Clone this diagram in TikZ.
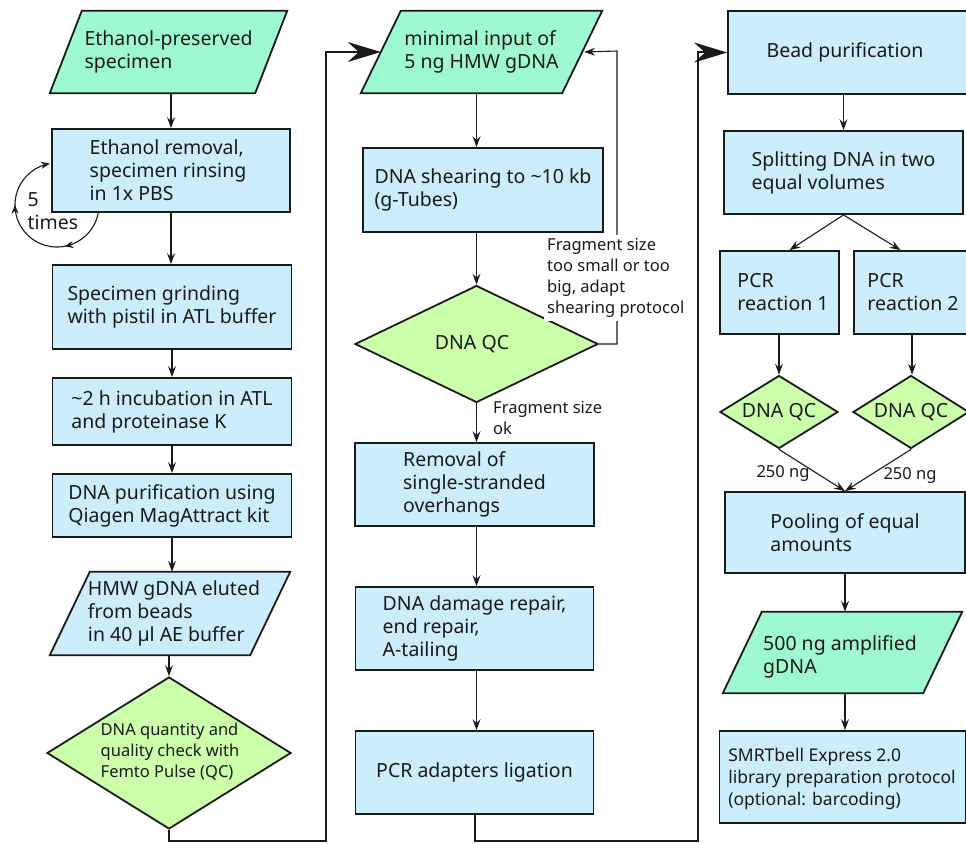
\documentclass[tikz,border=0pt]{standalone}
\usepackage{fontspec}
\setmainfont{Noto Sans}
\usetikzlibrary{shapes.geometric,arrows.meta,decorations.markings}
\definecolor{mint}{HTML}{9FF9D0}
\definecolor{lblue}{HTML}{CCEEFC}
\definecolor{lgreen}{HTML}{CCFFAA}
\definecolor{bd}{HTML}{1A1A1A}
\newcommand\myMainFont{\fontsize{19.5}{23}\selectfont}
\newcommand\mySmallFont{\fontsize{16.5}{21}\selectfont}
\newcommand\myPara[2]{\draw[parashape] ([xshift=#2]#1.north west) -- (#1.north east) -- ([xshift=-#2]#1.south east) -- (#1.south west) -- cycle;}
\tikzset{
  box/.style={rectangle, draw=bd, line width=1.8pt, fill=lblue, inner sep=0pt},
  frame/.style={rectangle, inner sep=0pt},
  parashape/.style={draw=bd, line width=1.8pt, fill=mint, line join=miter},
  dia/.style={diamond, draw=bd, line width=1.8pt, fill=lgreen, inner sep=0pt},
  txt/.style={align=left, font=\myMainFont, text=bd, inner sep=0pt},
  stxt/.style={align=left, font=\mySmallFont, text=bd, inner sep=0pt},
  arr/.style={draw=bd, line width=1.1pt, -{Stealth[length=11pt,width=8pt,inset=4pt]}},
  bigarr/.style={draw=bd, line width=2pt, -{Stealth[length=33pt,width=20pt,inset=11pt]}},
}
\begin{document}
\begin{tikzpicture}[x=1pt,y=-1pt]
\useasboundingbox (0,0) rectangle (966,843);
\clip (0,0) rectangle (966,843);

% ---------- column 1 ----------
\path node[frame, minimum width=237pt, minimum height=82pt] (p1) at (168.5,52) {};
\myPara{p1}{32}
\node[txt] (p1t) at (p1) {Ethanol-preserved\\specimen};

\node[box, minimum width=238pt, minimum height=83pt] (b1) at (171,170.5) {};
\node[txt] (b1t) at (168,170.5) {Ethanol removal,\\specimen rinsing\\in 1x PBS};

\node[box, minimum width=239pt, minimum height=84pt] (b2) at (172,307) {};
\node[txt] (b2t) at (b2) {Specimen grinding\\with pistil in ATL buffer};

\node[box, minimum width=239pt, minimum height=67pt] (b3) at (172,411.5) {};
\node[txt] (b3t) at (b3) {\textasciitilde 2 h incubation in ATL\\and proteinase K};

\node[box, minimum width=239pt, minimum height=63pt] (b4) at (172,505.5) {};
\node[txt] (b4t) at (b4) {DNA purification using\\Qiagen MagAttract kit};

\path node[frame, minimum width=240pt, minimum height=83pt] (p3) at (170,613.5) {};
\draw[parashape, fill=lblue] ([xshift=40]p3.north west) -- (p3.north east) -- ([xshift=-40]p3.south east) -- (p3.south west) -- cycle;
\node[txt] (p3t) at (174,613.5) {HMW gDNA eluted\\from beads\\in 40 µl AE buffer};

\node[dia, minimum width=244pt, minimum height=152pt] (qc1) at (169,753) {};
\node[stxt] (qc1t) at (170,752) {DNA quantity and\\quality check with\\Femto Pulse (QC)};

\node[txt] (five) at (53,211) {5\\times};

% ---------- column 2 ----------
\path node[frame, minimum width=241pt, minimum height=82pt] (p2) at (481.5,52) {};
\myPara{p2}{40}
\node[txt] (p2t) at (p2) {minimal input of\\5 ng HMW gDNA};

\node[box, minimum width=240pt, minimum height=84pt] (s1) at (483,190) {};
\node[txt] (s1t) at (s1) {DNA shearing to \textasciitilde 10 kb\\(g-Tubes)};

\node[dia, minimum width=243pt, minimum height=117pt] (qc2) at (476.5,344) {};
\node[txt] (qc2t) at (472,344) {DNA QC};

\node[box, minimum width=239pt, minimum height=83pt] (r1) at (474.5,484.5) {};
\node[txt] (r1t) at (r1) {Removal of\\single-stranded\\overhangs};

\node[box, minimum width=238pt, minimum height=83pt] (r2) at (474.5,628.5) {};
\node[txt] (r2t) at (r2) {DNA damage repair,\\end repair,\\A-tailing};

\node[box, minimum width=238pt, minimum height=83pt] (r3) at (474.5,772.5) {};
\node[txt] (r3t) at (r3) {PCR adapters ligation};

% ---------- column 3 ----------
\node[box, minimum width=240pt, minimum height=83pt] (bead) at (848,52.5) {};
\node[txt] (beadt) at (845,52.5) {Bead purification};

\node[box, minimum width=239pt, minimum height=83pt] (split) at (843.5,172.5) {};
\node[txt] (splitt) at (split) {Splitting DNA in two\\equal volumes};

\node[box, minimum width=119pt, minimum height=83pt] (pcr1) at (779.5,292.5) {};
\node[txt] (pcr1t) at (783,292.5) {PCR\\reaction 1};

\node[box, minimum width=119pt, minimum height=83pt] (pcr2) at (913.5,292.5) {};
\node[txt] (pcr2t) at (913,292.5) {PCR\\reaction 2};

\node[dia, minimum width=118pt, minimum height=73pt] (dq1) at (779,412) {};
\node[txt] (dq1t) at (dq1) {DNA QC};
\node[dia, minimum width=116pt, minimum height=73pt] (dq2) at (911,412) {};
\node[txt] (dq2t) at (dq2) {DNA QC};

\node[box, minimum width=240pt, minimum height=81pt] (pool) at (845,532.5) {};
\node[txt] (poolt) at (pool) {Pooling of equal\\amounts};

\path node[frame, minimum width=239pt, minimum height=81pt] (p4) at (842.5,652.5) {};
\myPara{p4}{39}
\node[txt] (p4t) at (840,657) {500 ng amplified\\gDNA};

\node[box, minimum width=246pt, minimum height=92pt] (smrt) at (842.5,777) {};
\node[stxt, font=\fontsize{17.5}{22}\selectfont] (smrtt) at (842,779) {SMRTbell Express 2.0\\library preparation protocol\\(optional: barcoding)};

\node[stxt] (l250a) at (783,473) {250 ng};
\node[stxt] (l250b) at (910,475) {250 ng};

% ---------- coordinates ----------
\coordinate (c1) at (326,841);
\coordinate (c2) at (698,841);
\coordinate (fb) at (617,51);
\coordinate (p2w) at ([xshift=20]p2.west);
\coordinate (p2e) at ([xshift=-18]p2.east);
\coordinate (t1) at ([xshift=10]pcr1.north);
\coordinate (t2) at ([xshift=-13]pcr2.north);

% ---------- connectors ----------
\draw[arr] (b1.north |- p1.south) -- (b1.north);
\draw[arr] (b1.south) -- (b1.south |- b2.north);
\draw[arr] (b2.south) -- (b2.south |- b3.north);
\draw[arr] (b3.south) -- (b3.south |- b4.north);
\draw[arr] (b4.south) -- (b4.south |- p3.north);
\draw[arr] (qc1.north |- p3.south) -- (qc1.north);
\draw[bigarr] (qc1.south) |- (c1) |- (p2w);

% 5 times loop
\draw[draw=bd, line width=1.1pt,
  decoration={markings,
    mark=at position 0.28 with {\arrow{Stealth[length=9pt,width=7pt,inset=3pt]}},
    mark=at position 0.68 with {\arrow{Stealth[length=9pt,width=7pt,inset=3pt]}}},
  postaction={decorate}, -{Stealth[length=9pt,width=7pt,inset=3pt]}]
  plot[domain=9.6:260.4, samples=90] ({57+42*cos(\x)},{205+42*sin(\x)});

\draw[arr] (qc2.north |- p2.south) -- (qc2.north |- s1.north);
\draw[arr] (qc2.north |- s1.south) -- (qc2.north);
\draw[arr] (qc2.south) -- (qc2.south |- r1.north);
\draw[arr] (qc2.south |- r1.south) -- (qc2.south |- r2.north);
\draw[arr] (qc2.south |- r2.south) -- (qc2.south |- r3.north);
\draw[arr] (qc2.east) -| (fb) -- (p2e);
\draw[bigarr] (r3.south) |- (c2) |- (bead.west);

\draw[arr] (split.north |- bead.south) -- (split.north);
\draw[arr] (split.south) -- (t1);
\draw[arr] (split.south) -- (t2);
\draw[arr] (dq1.north |- pcr1.south) -- (dq1.north);
\draw[arr] ([xshift=1]dq2.north |- pcr2.south) -- ([xshift=1]dq2.north);
\draw[arr] (dq1.south) -- (pool.north);
\draw[arr] (dq2.south) -- (pool.north);
\draw[arr] (pool.south) -- (pool.south |- p4.north);
\draw[arr] (pool.south |- p4.south) -- (pool.south |- smrt.north);

% labels on white ground (drawn over the feedback line)
\node[stxt, anchor=west, fill=white, inner sep=3pt] (fbl) at (544,278) {Fragment size\\too small or too\\big, adapt\\shearing protocol};
\node[stxt, anchor=west] (okl) at (493,418) {Fragment size\\ok};
\end{tikzpicture}
\end{document}
